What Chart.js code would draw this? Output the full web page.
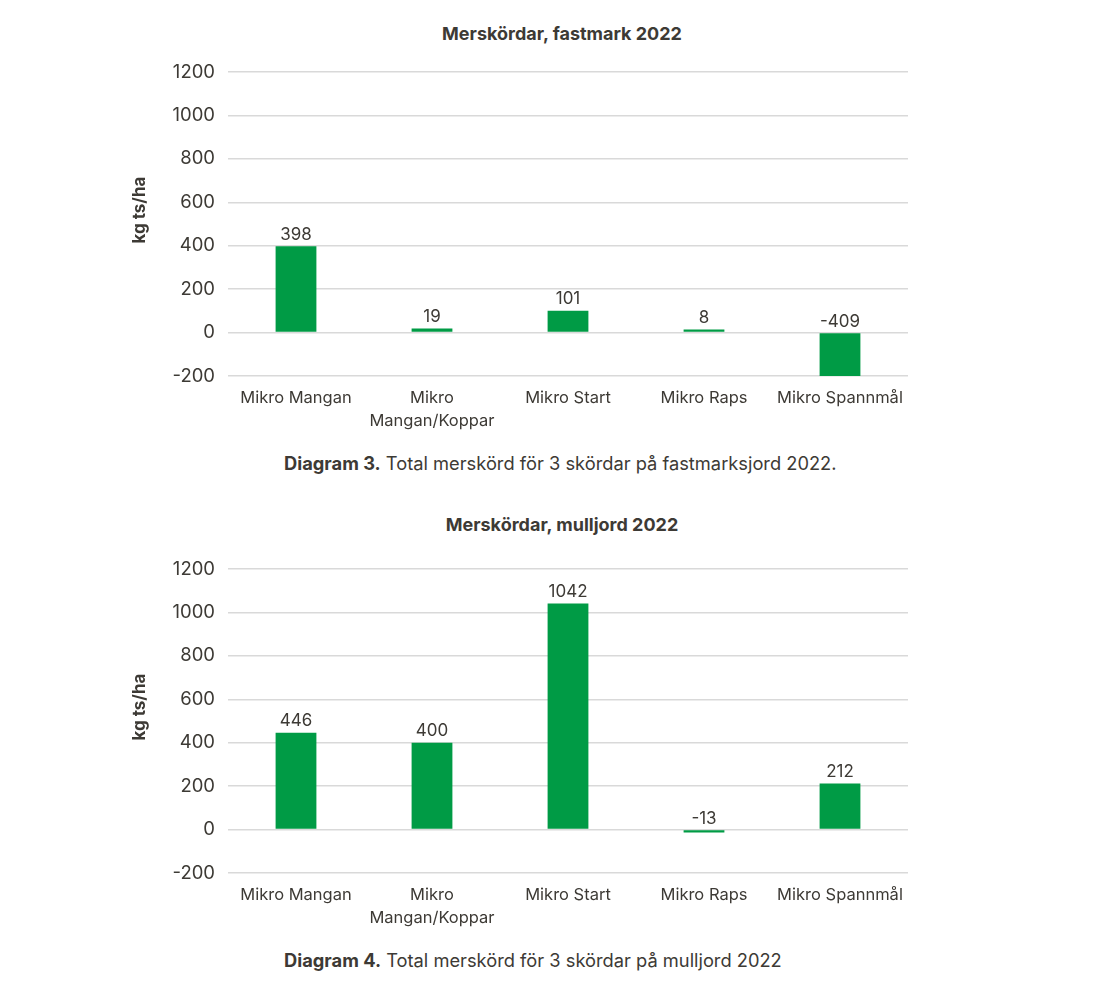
<!DOCTYPE html>
<html>
<head>
<meta charset="utf-8">
<script src="https://cdn.jsdelivr.net/npm/chart.js@4"></script>
<style>
  html, body { margin:0; padding:0; background:#ffffff; }
  body { width:1101px; height:1000px; position:relative; font-family: Inter, "Noto Sans", sans-serif; color:#3d3a35; }
  .title { position:absolute; left:262px; width:600px; text-align:center; font-weight:700; font-size:18px; line-height:20px; }
  .caption { position:absolute; left:284px; white-space:nowrap; font-size:18.3px; line-height:20px; }
  .caption b { font-weight:700; }
  .wrap { position:absolute; left:120px; width:800px; }
</style>
</head>
<body>
<div class="title" style="top:24px;">Merskördar, fastmark 2022</div>
<div class="wrap" style="top:48px;height:392px;"><canvas id="c1"></canvas></div>
<div class="caption" style="top:453px;"><b>Diagram 3.</b> Total merskörd för 3 skördar på fastmarksjord 2022.</div>

<div class="title" style="top:515px;">Merskördar, mulljord 2022</div>
<div class="wrap" style="top:545px;height:392px;"><canvas id="c2"></canvas></div>
<div class="caption" style="top:950px;"><b>Diagram 4.</b> Total merskörd för 3 skördar på mulljord 2022</div>

<script>
const categories = ["Mikro Mangan", ["Mikro", "Mangan/Koppar"], "Mikro Start", "Mikro Raps", "Mikro Spannmål"];
const fastmarkValues = [398, 19, 101, 8, -409];
const mulljordValues = [446, 400, 1042, -13, 212];
const yTicks = [-200, 0, 200, 400, 600, 800, 1000, 1200];
const yAxisTitle = "kg ts/ha";

const textColor = "#3d3a35";
const barColor = "#009b45";
const gridColor = "#d9d9d9";
const fontFamily = "Inter, 'Noto Sans', sans-serif";

const valueLabels = {
  id: "valueLabels",
  afterDatasetsDraw(chart) {
    const ctx = chart.ctx;
    const meta = chart.getDatasetMeta(0);
    const data = chart.data.datasets[0].data;
    ctx.save();
    ctx.font = "17px " + fontFamily;
    ctx.fillStyle = textColor;
    ctx.textAlign = "center";
    ctx.textBaseline = "bottom";
    meta.data.forEach((bar, i) => {
      const top = Math.min(bar.y, bar.base);
      ctx.fillText(String(data[i]), bar.x, top - 3);
    });
    ctx.restore();
  }
};

const axisTitle = {
  id: "axisTitle",
  afterDraw(chart) {
    const ctx = chart.ctx;
    const area = chart.chartArea;
    ctx.save();
    ctx.font = "bold 17px " + fontFamily;
    ctx.fillStyle = textColor;
    ctx.textAlign = "center";
    ctx.textBaseline = "middle";
    ctx.translate(20, (area.top + area.bottom) / 2 - 14);
    ctx.rotate(-Math.PI / 2);
    ctx.fillText(yAxisTitle, 0, 0);
    ctx.restore();
  }
};

function makeChart(id, values, padTop) {
  return new Chart(document.getElementById(id), {
    type: "bar",
    data: {
      labels: categories,
      datasets: [{
        data: values,
        backgroundColor: barColor,
        borderWidth: 0,
        barPercentage: 0.3,
        categoryPercentage: 1.0,
        minBarLength: 3,
        clip: 0
      }]
    },
    options: {
      responsive: true,
      maintainAspectRatio: false,
      animation: false,
      layout: { padding: { top: padTop, right: 12, left: 0, bottom: 0 } },
      plugins: { legend: { display: false }, tooltip: { enabled: false }, title: { display: false } },
      scales: {
        x: {
          grid: { display: false, drawTicks: false },
          border: { display: false },
          ticks: { color: textColor, font: { family: fontFamily, size: 16.5, lineHeight: 1.4 }, padding: 10, maxRotation: 0, autoSkip: false },
          afterFit(scale) { scale.height = 64; }
        },
        y: {
          min: yTicks[0],
          max: yTicks[yTicks.length - 1],
          afterBuildTicks(scale) { scale.ticks = yTicks.map(v => ({ value: v })); },
          grid: { color: gridColor, lineWidth: 1.5, drawTicks: false },
          border: { display: false },
          ticks: { color: textColor, font: { family: fontFamily, size: 18.5 }, padding: 13, callback: v => String(v) },
          title: { display: false },
          afterFit(scale) { scale.width = 108; }
        }
      }
    },
    plugins: [valueLabels, axisTitle]
  });
}

makeChart("c1", fastmarkValues, 19);
makeChart("c2", mulljordValues, 19);
</script>
</body>
</html>
